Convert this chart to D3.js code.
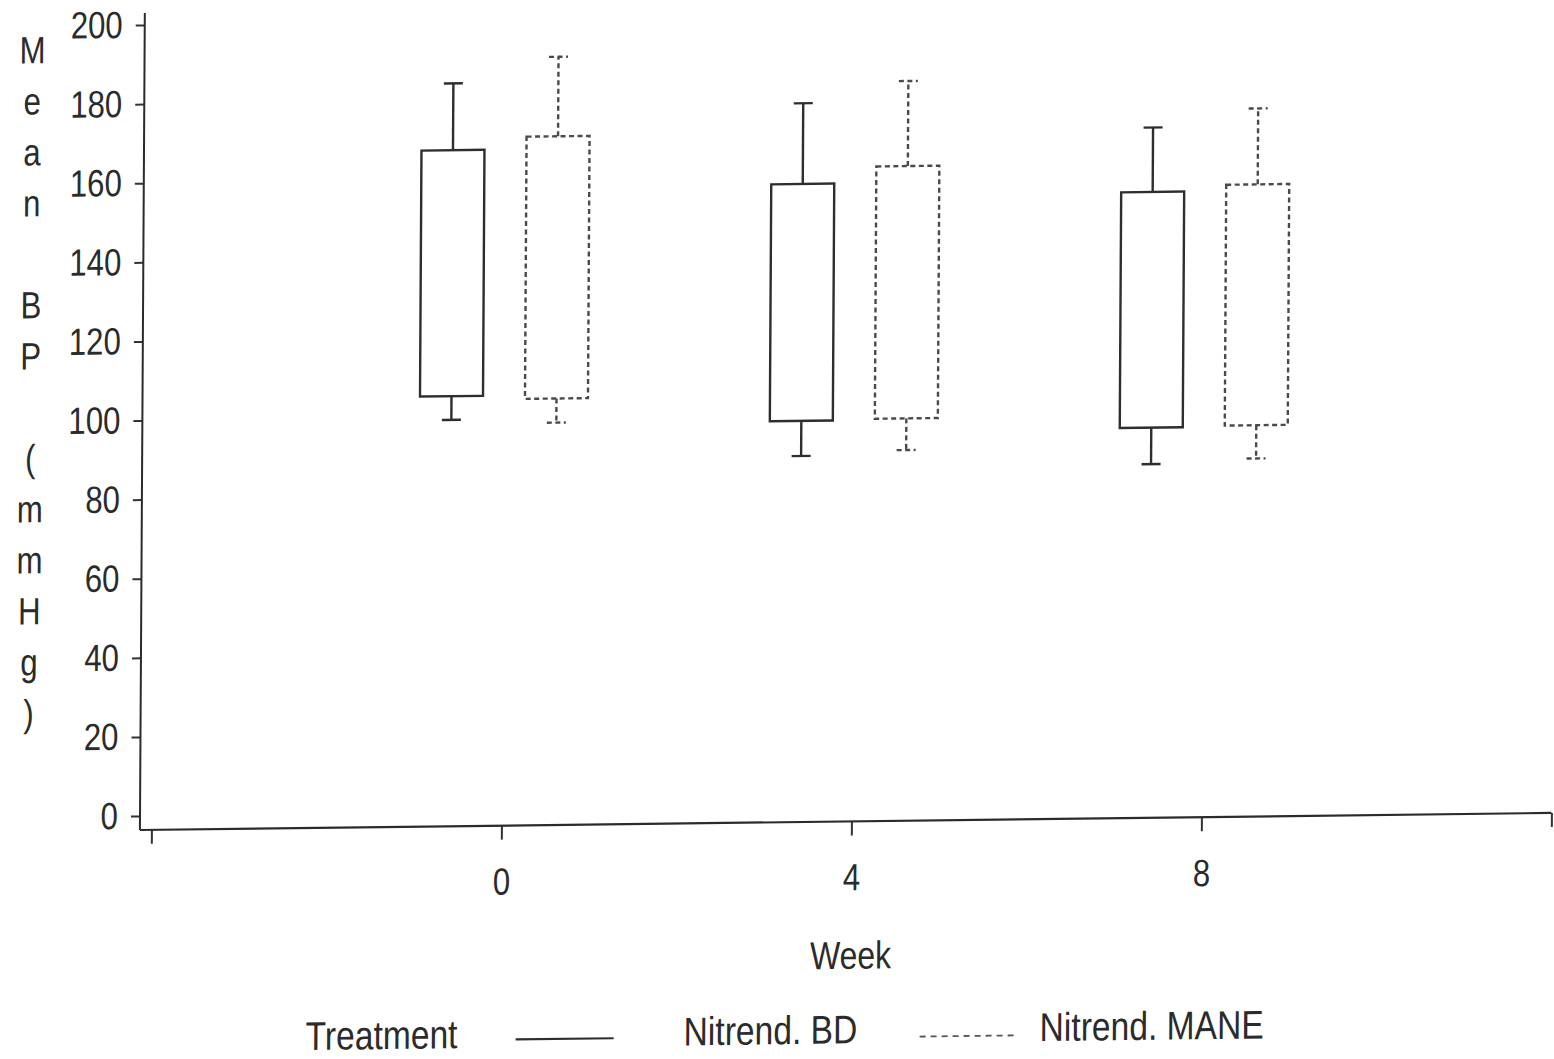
<!DOCTYPE html>
<html>
<head>
<meta charset="utf-8">
<script src="https://cdn.jsdelivr.net/npm/d3@7"></script>
<style>
  html, body { margin: 0; padding: 0; background: #fff; }
  svg { display: block; }
  text { font-family: "Liberation Sans", Arial, sans-serif; fill: #2b2b2b; }
</style>
</head>
<body>
<svg id="chart" width="1554" height="1059"></svg>
<script>
// ---- data ----
const weeks = [0, 4, 8];
const xTicks = [-4, 0, 4, 8, 12];
const xTickLabels = ["", "0", "4", "8", ""];
const yTicks = [0, 20, 40, 60, 80, 100, 120, 140, 160, 180, 200];
const treatments = ["Nitrend. BD", "Nitrend. MANE"];
// Nitrend. BD
const bdLow     = [99.2, 89.0, 85.9];
const bdBoxLow  = [105.2, 97.9, 95.1];
const bdBoxHigh = [167.4, 157.8, 154.7];
const bdHigh    = [184.3, 178.2, 171.0];
// Nitrend. MANE
const maneLow     = [98.2, 90.2, 87.0];
const maneBoxLow  = [104.3, 98.2, 95.4];
const maneBoxHigh = [170.6, 162.0, 156.3];
const maneHigh    = [190.7, 183.5, 175.5];
const yTitle = "Mean BP (mmHg)";
const xTitle = "Week";
const legendTitle = "Treatment";

// ---- build ----
const series = [
  { name: treatments[0], low: bdLow, boxLow: bdBoxLow, boxHigh: bdBoxHigh, high: bdHigh, offset: -52.5, dash: null, color: "#2e2e2e" },
  { name: treatments[1], low: maneLow, boxLow: maneBoxLow, boxHigh: maneBoxHigh, high: maneHigh, offset: 52.5, dash: "5,3.5", color: "#4a4a4a" }
];

const svg = d3.select("#chart");
// slight scan distortion of the original page
const g = svg.append("g").attr("transform", "matrix(1,-0.0121,-0.006,1,4.9,1.7)");

const x = d3.scaleLinear().domain([-4, 12]).range([151.5, 1551.5]);
const y = d3.scaleLinear().domain([0, 200]).range([816, 25]);
const axisY = 830, axisX = 140;
const fs = 38;

// Y axis
const yAxis = d3.axisLeft(y).tickValues(yTicks).tickSize(9).tickPadding(13).tickFormat(d3.format("d"));
const ya = g.append("g").attr("transform", `translate(${axisX},0)`).call(yAxis);
ya.select(".domain").remove();
ya.selectAll(".tick line").attr("stroke", "#333").attr("stroke-width", 2);
ya.selectAll(".tick text").attr("font-size", fs).attr("fill", "#2b2b2b")
  .style("font-family", '"Liberation Sans", Arial, sans-serif');
g.append("line").attr("x1", axisX).attr("x2", axisX).attr("y1", 13).attr("y2", axisY)
  .attr("stroke", "#2b2b2b").attr("stroke-width", 2);

// X axis
const xAxis = d3.axisBottom(x).tickValues(xTicks).tickSize(14).tickPadding(28)
  .tickFormat((d, i) => xTickLabels[i]);
const xa = g.append("g").attr("transform", `translate(0,${axisY})`).call(xAxis);
xa.select(".domain").remove();
xa.selectAll(".tick line").attr("stroke", "#333").attr("stroke-width", 2);
xa.selectAll(".tick text").attr("font-size", fs).attr("fill", "#2b2b2b")
  .style("font-family", '"Liberation Sans", Arial, sans-serif');
g.append("line").attr("x1", axisX).attr("x2", x(12)).attr("y1", axisY).attr("y2", axisY)
  .attr("stroke", "#2b2b2b").attr("stroke-width", 2.2);

// X title
g.append("text").attr("x", x(4)).attr("y", 964).attr("text-anchor", "middle")
  .attr("dominant-baseline", "central").attr("font-size", 39).text(xTitle);

// Y title, one character per line
const chars = Array.from(yTitle);
g.append("g").selectAll("text").data(chars).join("text")
  .attr("x", 28).attr("y", (d, i) => 62 + i * 51.0)
  .attr("text-anchor", "middle").attr("font-size", fs).text(d => d);

// boxes
const boxW = 63, capW = 19;
series.forEach(s => {
  const sg = g.append("g").attr("fill", "none").attr("stroke", s.color).attr("stroke-width", 2.4);
  if (s.dash) sg.attr("stroke-dasharray", s.dash);
  weeks.forEach((w, i) => {
    const cx = x(w) + s.offset;
    sg.append("rect").attr("x", cx - boxW / 2).attr("y", y(s.boxHigh[i]))
      .attr("width", boxW).attr("height", y(s.boxLow[i]) - y(s.boxHigh[i]));
    sg.append("line").attr("x1", cx).attr("x2", cx).attr("y1", y(s.boxHigh[i])).attr("y2", y(s.high[i]));
    sg.append("line").attr("x1", cx - capW / 2).attr("x2", cx + capW / 2).attr("y1", y(s.high[i])).attr("y2", y(s.high[i]));
    sg.append("line").attr("x1", cx).attr("x2", cx).attr("y1", y(s.boxLow[i])).attr("y2", y(s.low[i]));
    sg.append("line").attr("x1", cx - capW / 2).attr("x2", cx + capW / 2).attr("y1", y(s.low[i])).attr("y2", y(s.low[i]));
  });
});

// legend
const lg = g.append("g").attr("class", "legend");
const legY = 1038;
lg.append("text").attr("x", 307).attr("y", legY).attr("dominant-baseline", "central").attr("font-size", 40).text(legendTitle);
lg.append("line").attr("x1", 517).attr("x2", 615).attr("y1", legY + 6).attr("y2", legY + 6)
  .attr("stroke", "#2e2e2e").attr("stroke-width", 2.2);
lg.append("text").attr("x", 685).attr("y", legY).attr("dominant-baseline", "central").attr("font-size", 40).text(treatments[0]);
lg.append("line").attr("x1", 921).attr("x2", 1020).attr("y1", legY + 8).attr("y2", legY + 8)
  .attr("stroke", "#555").attr("stroke-width", 1.8).attr("stroke-dasharray", "6,5");
lg.append("text").attr("x", 1041).attr("y", legY).attr("dominant-baseline", "central").attr("font-size", 40).text(treatments[1]);

// condensed lettering like the original (narrow sans)
svg.selectAll("text").each(function () {
  const w = this.getComputedTextLength();
  const inLegend = this.parentNode.getAttribute("class") === "legend";
  const f = inLegend ? 0.84 : 0.82;
  if (w > 0) d3.select(this).attr("textLength", w * f).attr("lengthAdjust", "spacingAndGlyphs");
});
</script>
</body>
</html>
